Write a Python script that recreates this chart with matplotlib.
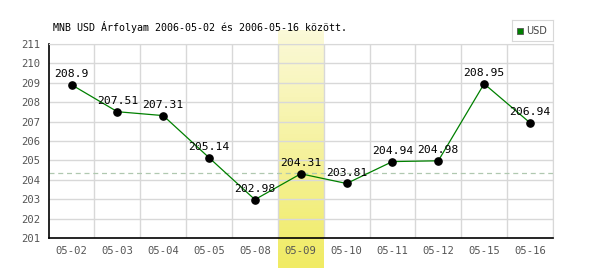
import numpy as np
import matplotlib
matplotlib.use('Agg')
import matplotlib.pyplot as plt
from matplotlib.colors import LinearSegmentedColormap

# data
dates = ['05-02', '05-03', '05-04', '05-05', '05-08', '05-09',
         '05-10', '05-11', '05-12', '05-15', '05-16']
usd = [208.9, 207.51, 207.31, 205.14, 202.98, 204.31,
       203.81, 204.94, 204.98, 208.95, 206.94]
labels = ['208.9', '207.51', '207.31', '205.14', '202.98', '204.31',
          '203.81', '204.94', '204.98', '208.95', '206.94']
ref_level = 204.33
highlight = '05-09'
title = 'MNB USD Árfolyam 2006-05-02 és 2006-05-16 között.'

plt.rcParams['font.family'] = ['DejaVu Sans Mono']

fig = plt.figure(figsize=(6, 2.7), dpi=100)
ax = fig.add_axes([0.081, 0.1185, 0.8405, 0.7185])
ax.set_facecolor('white')

x = np.arange(len(dates))

# highlighted day, gradient column running past the axes
hi = dates.index(highlight)
grad = LinearSegmentedColormap.from_list('hl', ['#fbf9d8', '#f0eb64'])
ax.imshow(np.linspace(0, 1, 64).reshape(-1, 1), cmap=grad, aspect='auto',
          extent=(hi - 0.5, hi + 0.5, 199.45, 211.7), origin='upper',
          clip_on=False, zorder=0.5)

ax.set_xlim(-0.5, len(dates) - 0.5)
ax.set_ylim(201, 211)

# grid
for yy in range(202, 212):
    ax.axhline(yy, color='#d8d8d8', lw=1, zorder=1)
for xx in np.arange(0.5, len(dates), 1):
    ax.axvline(xx, color='#d8d8d8', lw=1, zorder=1)

ax.axhline(ref_level, color='#b0c8b0', lw=0.9, ls=(0, (4, 3)), zorder=2)

ax.plot(x, usd, color='#008000', lw=0.9, zorder=3)
ax.plot(x, usd, 'o', color='black', ms=5.2, zorder=4)
for xi, yi, t in zip(x, usd, labels):
    ax.annotate(t, (xi, yi), xytext=(0, 4), textcoords='offset points',
                ha='center', va='bottom', fontsize=8.2, color='black', zorder=5)

ax.set_xticks(x)
ax.set_xticklabels(dates)
ax.set_yticks(range(201, 212))
ax.tick_params(axis='both', length=0, labelsize=7.6, colors='#555555', pad=6)

for s in ['top', 'right']:
    ax.spines[s].set_color('#d8d8d8')
for s in ['left', 'bottom']:
    ax.spines[s].set_color('black')
    ax.spines[s].set_linewidth(1.2)

fig.text(0.088, 0.9, title, fontsize=7.2, color='black', va='center', ha='left')

# legend box
leg = fig.add_axes([0.853, 0.848, 0.068, 0.078])
leg.set_xticks([]); leg.set_yticks([])
for s in leg.spines.values():
    s.set_color('#d8d8d8')
leg.set_xlim(0, 1); leg.set_ylim(0, 1)
leg.plot(0.2, 0.5, 's', color='#008000', mec='#555555', mew=0.6, ms=5)
leg.text(0.35, 0.5, 'USD', va='center', ha='left', fontsize=7, color='#444444',
         family='DejaVu Sans')

fig.savefig('out.png', dpi=100)
